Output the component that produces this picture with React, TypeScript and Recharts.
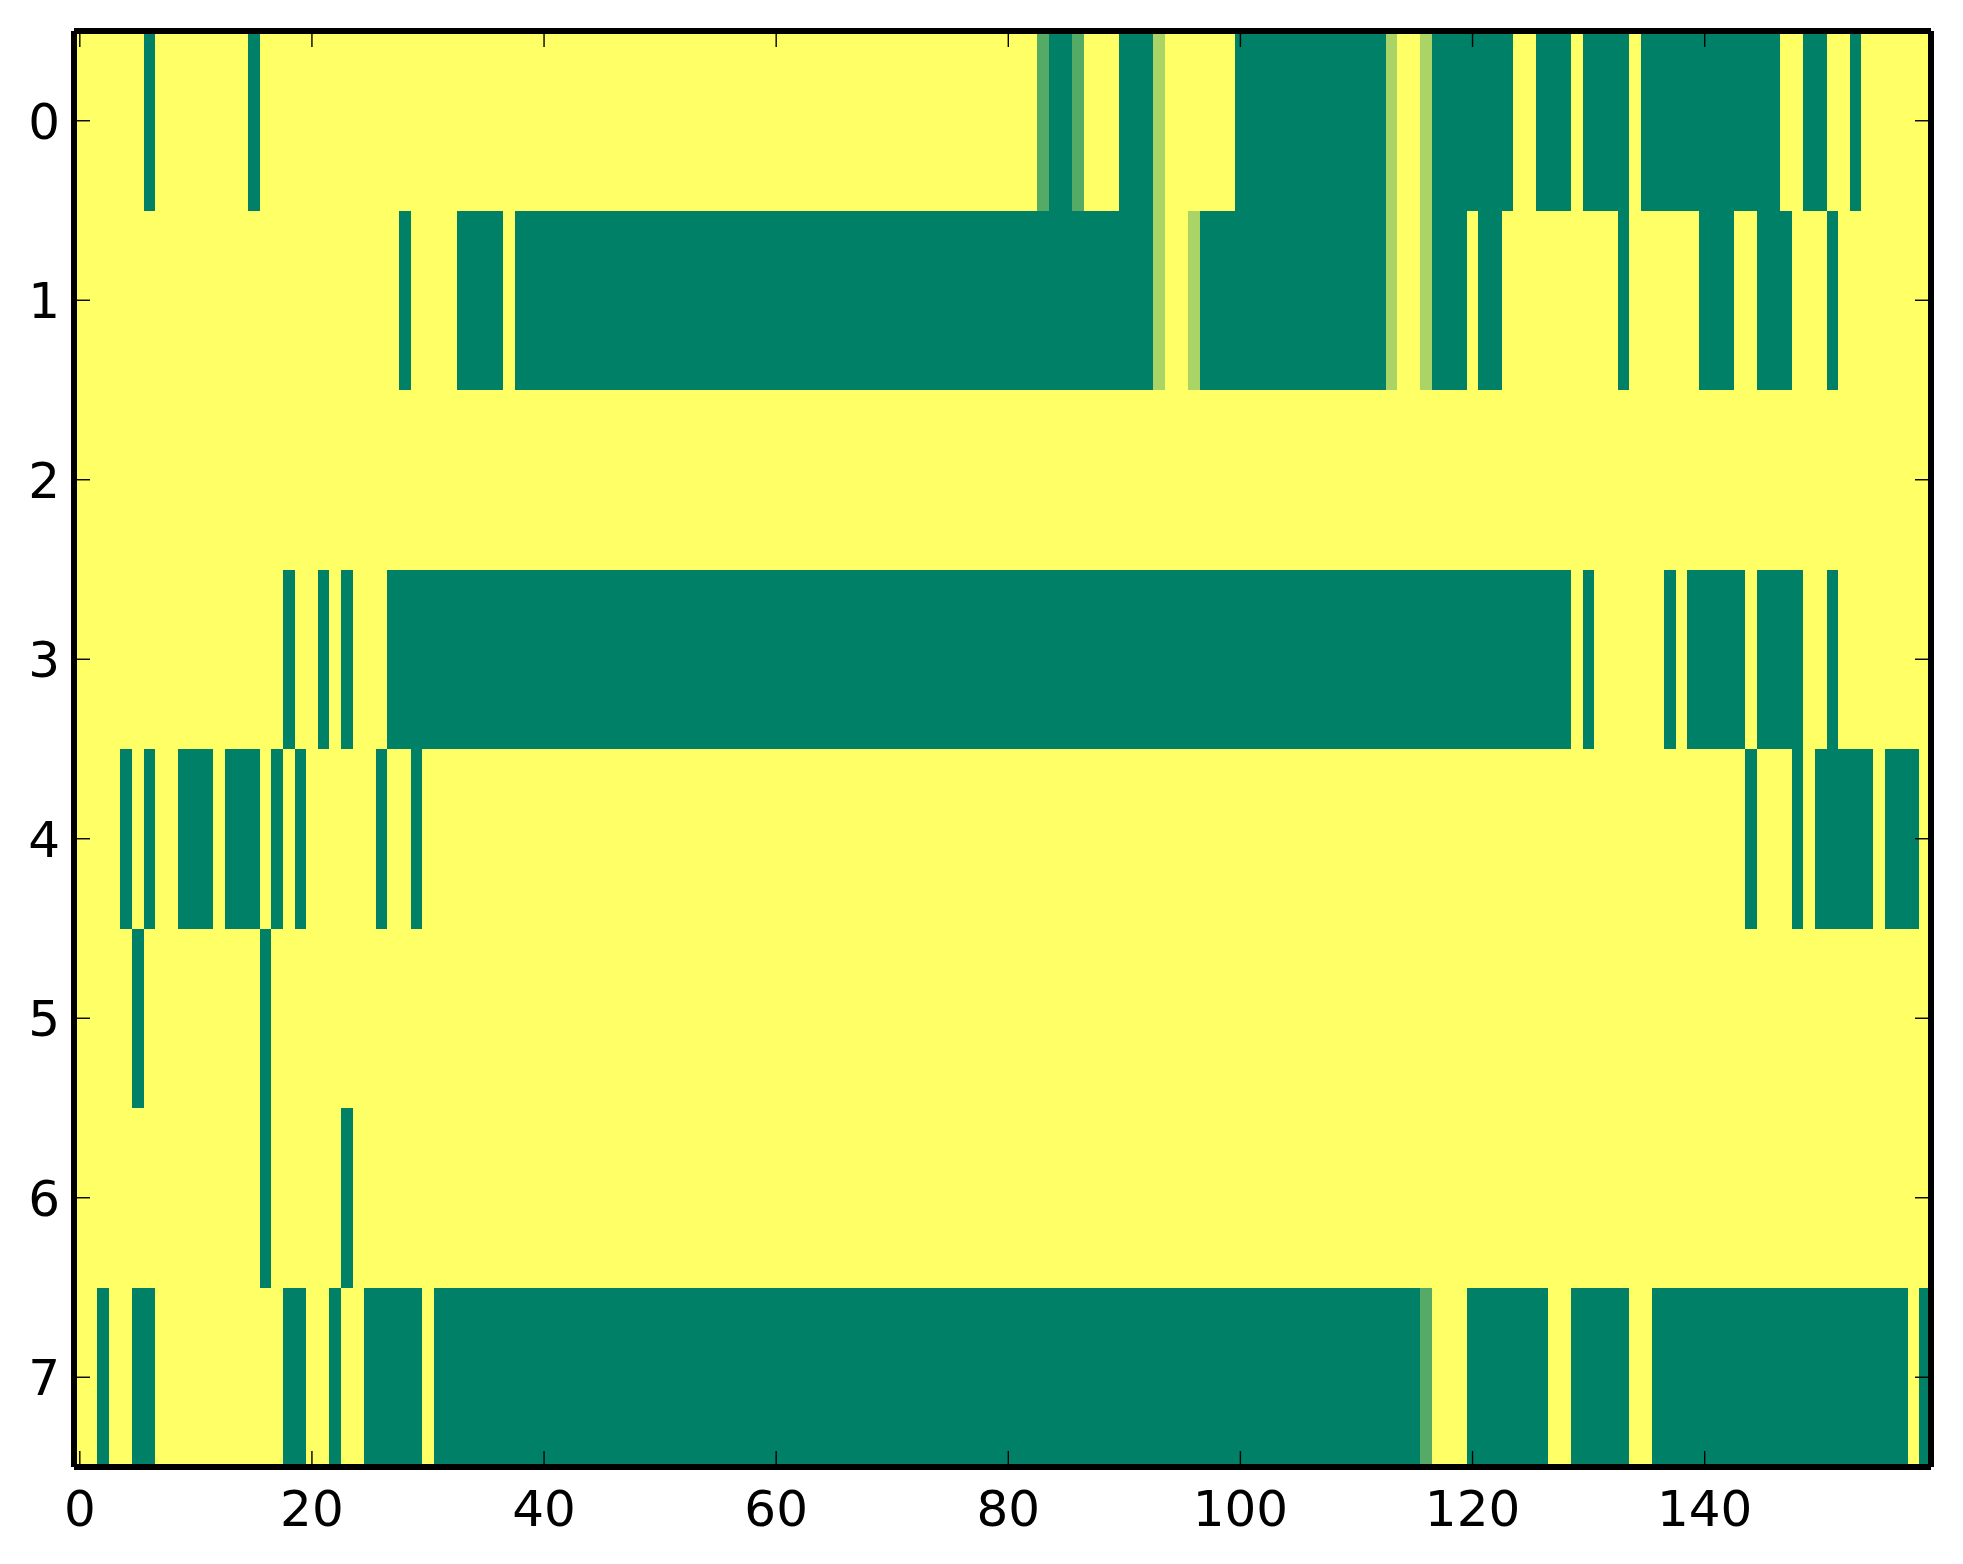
import React from 'react'
import { ComposedChart, XAxis, YAxis, ReferenceArea } from 'recharts'

// number of columns in the image
const columnCount = 160

// rows of the image: runs of [firstCol, lastCol, value]; every other cell is 1
const row0 = [
  [6, 6, 0], [15, 15, 0], [83, 83, 1 / 3], [84, 85, 0], [86, 86, 1 / 3],
  [90, 92, 0], [93, 93, 2 / 3], [100, 112, 0], [113, 113, 2 / 3], [116, 116, 2 / 3],
  [117, 123, 0], [126, 128, 0], [130, 133, 0], [135, 146, 0], [149, 150, 0], [153, 153, 0],
]
const row1 = [
  [28, 28, 0], [33, 36, 0], [38, 92, 0], [93, 93, 2 / 3], [96, 96, 2 / 3],
  [97, 112, 0], [113, 113, 2 / 3], [116, 116, 2 / 3], [117, 119, 0], [121, 122, 0],
  [133, 133, 0], [140, 142, 0], [145, 147, 0], [151, 151, 0],
]
const row2: number[][] = []
const row3 = [
  [18, 18, 0], [21, 21, 0], [23, 23, 0], [27, 128, 0], [130, 130, 0],
  [137, 137, 0], [139, 143, 0], [145, 148, 0], [151, 151, 0],
]
const row4 = [
  [4, 4, 0], [6, 6, 0], [9, 11, 0], [13, 15, 0], [17, 17, 0], [19, 19, 0],
  [26, 26, 0], [29, 29, 0], [144, 144, 0], [148, 148, 0], [150, 154, 0], [156, 158, 0],
]
const row5 = [[5, 5, 0], [16, 16, 0]]
const row6 = [[16, 16, 0], [23, 23, 0]]
const row7 = [
  [2, 2, 0], [5, 6, 0], [18, 19, 0], [22, 22, 0], [25, 29, 0], [31, 115, 0],
  [116, 116, 1 / 3], [120, 126, 0], [129, 133, 0], [136, 157, 0], [159, 159, 0],
]

const rows = [row0, row1, row2, row3, row4, row5, row6, row7]

const xTicks = [0, 20, 40, 60, 80, 100, 120, 140]
const yTicks = [0, 1, 2, 3, 4, 5, 6, 7]

// matplotlib "summer" colormap
const summer = (v: number) => {
  const r = Math.round(255 * v)
  const g = Math.round(255 * (0.5 + 0.5 * v))
  const b = Math.round(255 * 0.4)
  return `rgb(${r},${g},${b})`
}

// expand each row to full cells, then merge equal neighbours into runs
const cells = rows.flatMap((runs, rowIdx) => {
  const values = new Array(columnCount).fill(1)
  runs.forEach(([a, b, v]) => {
    for (let c = a; c <= b; c++) values[c] = v
  })
  const out: { row: number; start: number; end: number; value: number }[] = []
  let start = 0
  for (let c = 1; c <= columnCount; c++) {
    if (c === columnCount || values[c] !== values[start]) {
      out.push({ row: rowIdx, start, end: c - 1, value: values[start] })
      start = c
    }
  }
  return out
})

const font = { fontFamily: 'DejaVu Sans', fontSize: 50, fill: '#000' }
// the cells cover the inner half of the spine, so draw it twice as wide
const edge = { stroke: '#000', strokeWidth: 6 }
const tickLine = { stroke: '#000', strokeWidth: 1.4 }
const noLabel = () => <g />

export default function App() {
  return (
    <div style={{ position: 'absolute', left: 0, top: 0, background: '#fff' }}>
      <ComposedChart
        width={1963}
        height={1564}
        data={cells}
        margin={{ top: 30, right: 31, bottom: 0, left: 0 }}
      >
        <XAxis
          xAxisId="b"
          dataKey="start"
          type="number"
          domain={[-0.5, columnCount - 0.5]}
          ticks={xTicks}
          allowDataOverflow
          height={97}
          tickSize={-16}
          tickMargin={39}
          tick={font}
          axisLine={edge}
          tickLine={tickLine}
          interval={0}
        />
        <XAxis
          xAxisId="t"
          dataKey="start"
          orientation="top"
          type="number"
          domain={[-0.5, columnCount - 0.5]}
          ticks={xTicks}
          allowDataOverflow
          height={1}
          tickSize={-16}
          tick={noLabel}
          axisLine={edge}
          tickLine={tickLine}
          interval={0}
        />
        <YAxis
          yAxisId="l"
          dataKey="row"
          type="number"
          domain={[-0.5, 7.5]}
          reversed
          ticks={yTicks}
          allowDataOverflow
          width={74}
          tickSize={-16}
          tickMargin={30}
          tick={font}
          axisLine={edge}
          tickLine={tickLine}
          interval={0}
        />
        <YAxis
          yAxisId="r"
          dataKey="row"
          orientation="right"
          type="number"
          domain={[-0.5, 7.5]}
          reversed
          ticks={yTicks}
          allowDataOverflow
          width={1}
          tickSize={-16}
          tick={noLabel}
          axisLine={edge}
          tickLine={tickLine}
          interval={0}
        />
        {cells.map((c, i) => (
          <ReferenceArea
            key={i}
            xAxisId="b"
            yAxisId="l"
            x1={c.start - 0.5}
            x2={c.end + 0.5}
            y1={c.row - 0.5}
            y2={c.row + 0.5}
            fill={summer(c.value)}
            fillOpacity={1}
            stroke="none"
            shapeRendering="crispEdges"
            ifOverflow="visible"
          />
        ))}
      </ComposedChart>
    </div>
  )
}
